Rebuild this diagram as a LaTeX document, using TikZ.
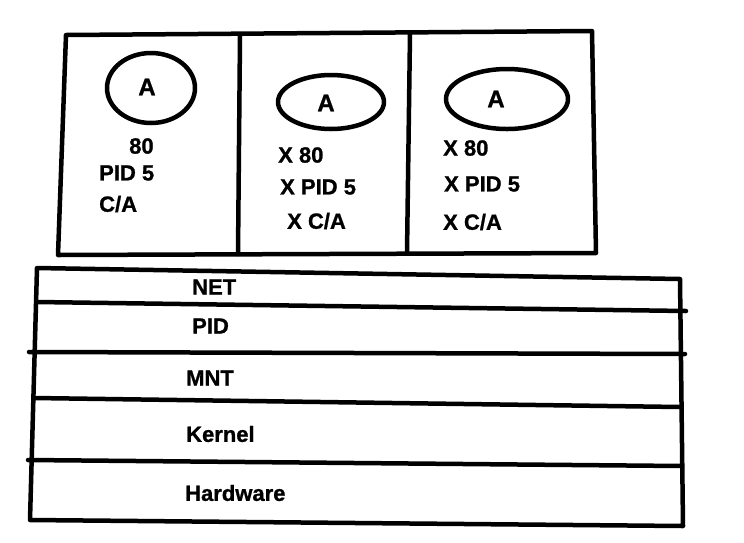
\documentclass[tikz,border=0pt]{standalone}
\usepackage{fontspec}
\setmainfont{Liberation Sans}
\newfontfamily\paintfont[FakeBold=1]{Liberation Sans}
\usetikzlibrary{positioning,shapes.geometric}
\tikzset{
  pen/.style={line width=4.5pt, line cap=round, line join=round},
  lbl/.style={font=\paintfont\fontsize{22}{26}\selectfont\bfseries, inner sep=0pt, anchor=west},
  proc/.style={draw, ellipse, pen, inner sep=0pt},
  app/.style={font=\paintfont\fontsize{24}{28}\selectfont\bfseries, inner sep=0pt},
}

\begin{document}
\begin{tikzpicture}[x=1pt,y=-1pt]
\useasboundingbox (0,0) rectangle (744,542);

% containers
\draw[pen] (66,35) -- (592,31) -- (596,253) -- (58,255) -- cycle;
\draw[pen] (240,36) -- (238,254);
\draw[pen] (410,34) -- (407,253);

\node[proc, minimum width=88pt, minimum height=70pt] (app1) at (151,88) {};
\node[proc, minimum width=106pt, minimum height=54pt] (app2) at (331,102) {};
\node[proc, minimum width=122pt, minimum height=60pt] (app3) at (507,99) {};
\node[app] (a1) at (147,87) {A};
\node[app] (a2) at (326,103) {A};
\node[app] (a3) at (496,99) {A};

\node[lbl] (port1) at (129,146) {80};
\node[lbl] (pid1)  at (99,173)  {PID 5};
\node[lbl] (ca1)   at (99,204)  {C/A};

\node[lbl] (port2) at (278,155) {X 80};
\node[lbl] (pid2)  at (280,187) {X PID 5};
\node[lbl] (ca2)   at (287,221) {X C/A};

\node[lbl] (port3) at (443,148) {X 80};
\node[lbl] (pid3)  at (444,184) {X PID 5};
\node[lbl] (ca3)   at (443,222) {X C/A};

% layers
\draw[pen] (37,268) -- (680,279) -- (683,526) -- (30,520) -- cycle;
\draw[pen] (37,302) -- (686,311);
\draw[pen] (29,352) -- (685,354);
\draw[pen] (34,398) -- (680,407);
\draw[pen] (28,460) -- (682,466);

\node[lbl] (net)  at (192,287) {NET};
\node[lbl] (pid)  at (192,326) {PID};
\node[lbl] (mnt)  at (186,378) {MNT};
\node[lbl] (kern) at (186,434) {Kernel};
\node[lbl] (hw)   at (185,493) {Hardware};
\end{tikzpicture}
\end{document}
